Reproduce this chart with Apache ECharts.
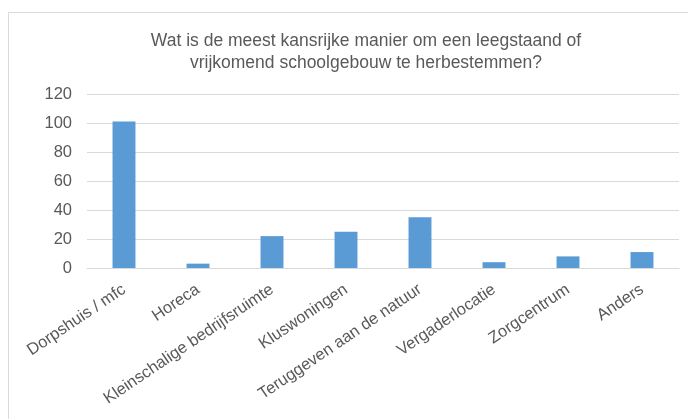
<!DOCTYPE html>
<html>
<head>
<meta charset="utf-8">
<script src="https://cdn.jsdelivr.net/npm/echarts@6/dist/echarts.min.js"></script>
<style>html,body{margin:0;padding:0;background:#fff;}#c{width:688px;height:419px;}</style>
</head>
<body>
<div id="c"></div>
<script>
const categories = ['Dorpshuis / mfc', 'Horeca', 'Kleinschalige bedrijfsruimte', 'Kluswoningen', 'Teruggeven aan de natuur', 'Vergaderlocatie', 'Zorgcentrum', 'Anders'];
const values = [101, 3, 22, 25, 35, 4, 8, 11];
const yTicks = [0, 20, 40, 60, 80, 100, 120];
const titleText = 'Wat is de meest kansrijke manier om een leegstaand of\nvrijkomend schoolgebouw te herbestemmen?';

const chart = echarts.init(document.getElementById('c'), null, {renderer: 'canvas'});
chart.setOption({
  animation: false,
  backgroundColor: '#fff',
  graphic: [{
    type: 'rect',
    shape: {x: 8.5, y: 12.5, width: 720, height: 440},
    style: {fill: 'none', stroke: '#d9d9d9', lineWidth: 1},
    silent: true
  }],
  title: {
    text: titleText,
    left: 361,
    top: 25,
    textAlign: 'center',
    textStyle: {fontFamily: 'Liberation Sans, Arial, sans-serif', fontSize: 17.5, fontWeight: 'normal', color: '#595959', lineHeight: 22}
  },
  grid: {left: 87, right: 9, top: 94, bottom: 151, containLabel: false},
  xAxis: {
    type: 'category',
    data: categories,
    axisLine: {lineStyle: {color: '#d9d9d9', width: 1}},
    axisTick: {show: false},
    axisLabel: {interval: 0, rotate: 34, margin: 20, fontFamily: 'Liberation Sans, Arial, sans-serif', fontSize: 16.5, color: '#595959'}
  },
  yAxis: {
    type: 'value',
    min: yTicks[0],
    max: yTicks[yTicks.length - 1],
    interval: 20,
    axisLine: {show: false},
    axisTick: {show: false},
    splitLine: {lineStyle: {color: '#d9d9d9', width: 1}},
    axisLabel: {margin: 15, fontFamily: 'Liberation Sans, Arial, sans-serif', fontSize: 16.5, color: '#595959'}
  },
  series: [{
    type: 'bar',
    data: values,
    barWidth: '31%',
    itemStyle: {color: '#5b9bd5'}
  }]
});
</script>
</body>
</html>
